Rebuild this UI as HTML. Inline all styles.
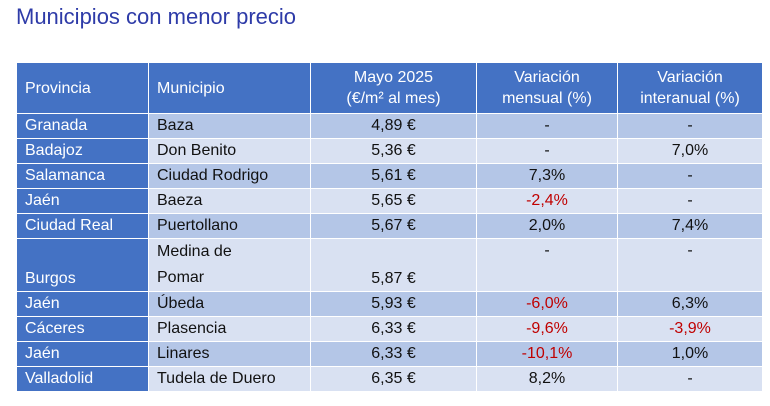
<!DOCTYPE html>
<html><head><meta charset="utf-8"><style>
body{margin:0;width:770px;height:406px;background:#fff;font-family:"Liberation Sans",sans-serif;overflow:hidden;position:relative}
h1{position:absolute;left:16px;top:4px;margin:0;font-weight:normal;font-size:22px;color:#2E3BA8}
table{position:absolute;left:16px;top:62px;border-collapse:collapse;table-layout:fixed;width:746px;font-size:16px;color:#111}
td,th{border:1.5px solid #fff;padding:0 0 0 8px;height:24px;line-height:24px;white-space:nowrap}
th{background:#4472C4;color:#fff;font-weight:normal;height:50px;line-height:21px;text-align:left}
th.c,td.c{text-align:center;padding:0}
td.p{background:#4472C4;color:#fff}
tr.o td:not(.p){background:#B4C6E7}
tr.e td:not(.p){background:#D9E1F2}
.r{color:#C00000}
</style></head><body>
<h1>Municipios con menor precio</h1>
<table>
<colgroup><col style="width:132px"><col style="width:162px"><col style="width:166px"><col style="width:141px"><col style="width:145px"></colgroup>
<tr><th style="padding-left:8px">Provincia</th><th>Municipio</th><th class="c">Mayo 2025<br>(€/m² al mes)</th><th class="c">Variación<br>mensual (%)</th><th class="c">Variación<br>interanual (%)</th></tr>
<tr class="o"><td class="p">Granada</td><td>Baza</td><td class="c">4,89 €</td><td class="c">-</td><td class="c">-</td></tr>
<tr class="e"><td class="p">Badajoz</td><td>Don Benito</td><td class="c">5,36 €</td><td class="c">-</td><td class="c">7,0%</td></tr>
<tr class="o"><td class="p">Salamanca</td><td>Ciudad Rodrigo</td><td class="c">5,61 €</td><td class="c">7,3%</td><td class="c">-</td></tr>
<tr class="e"><td class="p">Jaén</td><td>Baeza</td><td class="c">5,65 €</td><td class="c r">-2,4%</td><td class="c">-</td></tr>
<tr class="o"><td class="p">Ciudad Real</td><td>Puertollano</td><td class="c">5,67 €</td><td class="c">2,0%</td><td class="c">7,4%</td></tr>
<tr class="e"><td class="p" style="height:49px;vertical-align:bottom">Burgos</td><td style="line-height:26px">Medina de<br>Pomar</td><td class="c" style="vertical-align:bottom">5,87 €</td><td class="c" style="vertical-align:top">-</td><td class="c" style="vertical-align:top">-</td></tr>
<tr class="o"><td class="p">Jaén</td><td>Úbeda</td><td class="c">5,93 €</td><td class="c r">-6,0%</td><td class="c">6,3%</td></tr>
<tr class="e"><td class="p">Cáceres</td><td>Plasencia</td><td class="c">6,33 €</td><td class="c r">-9,6%</td><td class="c r">-3,9%</td></tr>
<tr class="o"><td class="p">Jaén</td><td>Linares</td><td class="c">6,33 €</td><td class="c r">-10,1%</td><td class="c">1,0%</td></tr>
<tr class="e"><td class="p">Valladolid</td><td>Tudela de Duero</td><td class="c">6,35 €</td><td class="c">8,2%</td><td class="c">-</td></tr>
</table>
</body></html>
